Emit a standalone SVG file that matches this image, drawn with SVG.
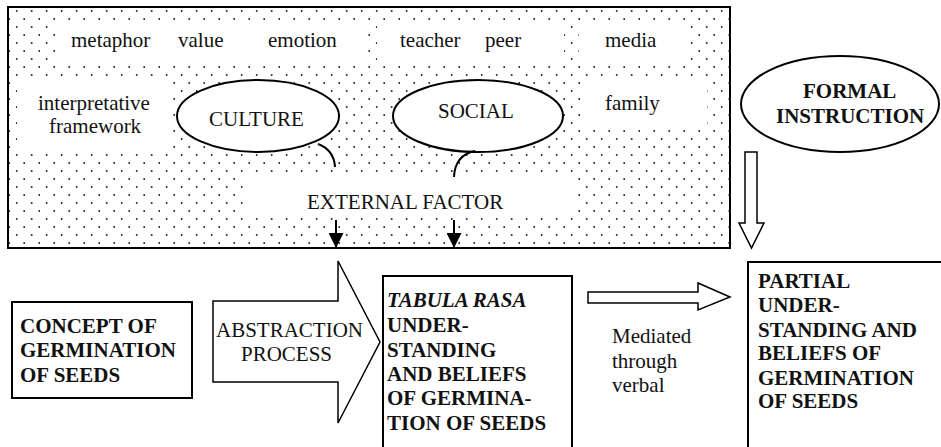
<svg xmlns="http://www.w3.org/2000/svg" width="941" height="447" viewBox="0 0 941 447" font-family="'Liberation Serif', 'Times New Roman', Times, serif">
  <style>
    text { font-family: 'Liberation Serif', 'Times New Roman', Times, serif; }
    .t { font-size: 21px; fill: #111; }
    .b { font-weight: bold; }
    .bi { font-weight: bold; font-style: italic; }
    .clear { fill: #fff; stroke: none; }
    .box { fill: #fff; stroke: #000; stroke-width: 2; }
    .oval { fill: #fff; stroke: #000; stroke-width: 2; }
    .hollow { fill: #fff; stroke: #000; stroke-width: 1.5; stroke-linejoin: miter; }
    .curve { fill: none; stroke: #000; stroke-width: 2; }
    .shaft { stroke: #000; stroke-width: 2; }
  </style>
  <defs>
    <pattern id="dots" patternUnits="userSpaceOnUse" x="0" y="0" width="15" height="16">
      <rect width="15" height="16" fill="#fff"/>
      <circle cx="1.7" cy="11" r="0.95" fill="#222"/>
      <circle cx="9.2" cy="3" r="0.95" fill="#222"/>
    </pattern>
    <marker id="head" viewBox="0 0 15 15" refX="15" refY="7.5" markerWidth="15" markerHeight="15" markerUnits="userSpaceOnUse" orient="auto">
      <path d="M0,0 L15,7.5 L0,15 Z" fill="#000"/>
    </marker>
  </defs>

  <rect width="941" height="447" fill="#fff"/>

  <!-- external factor field: dotted panel with clear label areas -->
  <g id="external-factor">
    <rect x="8" y="7" width="722" height="241" fill="url(#dots)" stroke="#000" stroke-width="2"/>
    <rect class="clear" x="57" y="20" width="311" height="46"/>
    <rect class="clear" x="377" y="20" width="187" height="46"/>
    <rect class="clear" x="579" y="20" width="107" height="46"/>
    <rect class="clear" x="17" y="81" width="155" height="71"/>
    <rect class="clear" x="583" y="78" width="124" height="50"/>
    <rect class="clear" x="245" y="176" width="328" height="42"/>
    <text class="t" x="71" y="47">metaphor</text>
    <text class="t" x="178" y="47">value</text>
    <text class="t" x="268" y="47">emotion</text>
    <text class="t" x="400" y="47">teacher</text>
    <text class="t" x="485" y="47">peer</text>
    <text class="t" x="605" y="47">media</text>
    <text class="t" x="38" y="110">interpretative</text>
    <text class="t" x="49" y="133">framework</text>
    <text class="t" x="605" y="110">family</text>
    <text class="t" x="307" y="209">EXTERNAL FACTOR</text>
  </g>

  <g id="culture">
    <ellipse class="oval" cx="258" cy="116" rx="81" ry="36"/>
    <text class="t" x="209" y="126">CULTURE</text>
  </g>

  <g id="social">
    <ellipse class="oval" cx="478" cy="116" rx="85" ry="36"/>
    <text class="t" x="438" y="118">SOCIAL</text>
  </g>

  <g id="formal-instruction">
    <ellipse class="oval" cx="840" cy="104" rx="99" ry="48"/>
    <text class="t b" x="803" y="98">FORMAL</text>
    <text class="t b" x="776" y="123">INSTRUCTION</text>
  </g>

  <g id="concept">
    <rect class="box" x="12" y="302" width="180" height="96"/>
    <text class="t b" x="20" y="333">CONCEPT OF</text>
    <text class="t b" x="20" y="357">GERMINATION</text>
    <text class="t b" x="20" y="382">OF SEEDS</text>
  </g>

  <g id="abstraction-process">
    <polygon class="hollow" points="213,301 338,301 338,261 380,342 338,423 338,382 213,382"/>
    <text class="t" x="216" y="337">ABSTRACTION</text>
    <text class="t" x="241" y="361">PROCESS</text>
  </g>

  <g id="tabula-rasa">
    <rect class="box" x="383" y="276" width="189" height="190"/>
    <text class="t bi" x="387" y="307">TABULA RASA</text>
    <text class="t b" x="387" y="332">UNDER-</text>
    <text class="t b" x="387" y="357">STANDING</text>
    <text class="t b" x="387" y="381">AND BELIEFS</text>
    <text class="t b" x="387" y="405">OF GERMINA-</text>
    <text class="t b" x="387" y="430">TION OF SEEDS</text>
  </g>

  <g id="mediated">
    <text class="t" x="612" y="343">Mediated</text>
    <text class="t" x="612" y="368">through</text>
    <text class="t" x="612" y="392">verbal</text>
  </g>

  <g id="partial">
    <rect class="box" x="748" y="262" width="210" height="200"/>
    <text class="t b" x="758" y="288">PARTIAL</text>
    <text class="t b" x="758" y="312">UNDER-</text>
    <text class="t b" x="758" y="337">STANDING AND</text>
    <text class="t b" x="758" y="360">BELIEFS OF</text>
    <text class="t b" x="758" y="385">GERMINATION</text>
    <text class="t b" x="758" y="408">OF SEEDS</text>
  </g>

  <g id="connectors">
    <path class="curve" d="M318,144 Q334,150 335,167"/>
    <path class="curve" d="M475,151 Q455,155 454,177"/>
    <line class="shaft" x1="336" y1="220" x2="336" y2="248" marker-end="url(#head)"/>
    <line class="shaft" x1="454" y1="220" x2="454" y2="248" marker-end="url(#head)"/>
    <polygon class="hollow" points="745,152 757,152 757,223 764,223 751.5,248 739,223 745,223"/>
    <polygon class="hollow" points="588,292 698,292 698,283 730,297 698,310 698,303 588,303"/>
  </g>
</svg>
